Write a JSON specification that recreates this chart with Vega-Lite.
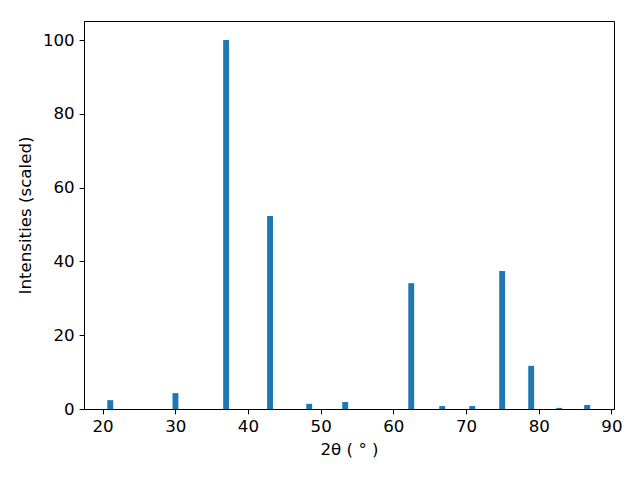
{
  "$schema": "https://vega.github.io/schema/vega-lite/v6.json",
  "autosize": "none",
  "width": 530,
  "height": 388,
  "padding": {"left": 84, "top": 21, "right": 26, "bottom": 71},
  "background": "white",
  "config": {
    "view": {"stroke": "black", "strokeWidth": 1},
    "font": "DejaVu Sans",
    "axis": {
      "grid": false,
      "domainColor": "black",
      "tickColor": "black",
      "tickSize": 4.9,
      "labelPadding": 4.9,
      "labelFont": "DejaVu Sans",
      "labelFontSize": 16.67,
      "labelColor": "black",
      "titleFont": "DejaVu Sans",
      "titleFontSize": 16.67,
      "titleFontWeight": "normal",
      "titleColor": "black"
    }
  },
  "data": {
    "values": [
      {"two_theta": 21.06, "intensity": 2.4},
      {"two_theta": 30.03, "intensity": 4.3},
      {"two_theta": 37.0, "intensity": 100},
      {"two_theta": 43.04, "intensity": 52.3},
      {"two_theta": 48.43, "intensity": 1.4},
      {"two_theta": 53.38, "intensity": 1.9},
      {"two_theta": 62.46, "intensity": 34.1},
      {"two_theta": 66.72, "intensity": 0.8},
      {"two_theta": 70.85, "intensity": 0.8},
      {"two_theta": 74.97, "intensity": 37.4},
      {"two_theta": 78.96, "intensity": 11.7},
      {"two_theta": 82.8, "intensity": 0.3},
      {"two_theta": 86.66, "intensity": 1.1}
    ]
  },
  "mark": {"type": "bar", "size": 5.9, "color": "#1f77b4"},
  "encoding": {
    "x": {
      "field": "two_theta",
      "type": "quantitative",
      "scale": {"domain": [17.45, 90.35], "nice": false, "zero": false, "padding": 0},
      "axis": {"values": [20, 30, 40, 50, 60, 70, 80, 90], "title": "2θ ( ° )", "titlePadding": 6}
    },
    "y": {
      "field": "intensity",
      "type": "quantitative",
      "scale": {"domain": [0, 105.15], "nice": false},
      "axis": {"values": [0, 20, 40, 60, 80, 100], "title": "Intensities (scaled)", "titlePadding": 8}
    }
  }
}
